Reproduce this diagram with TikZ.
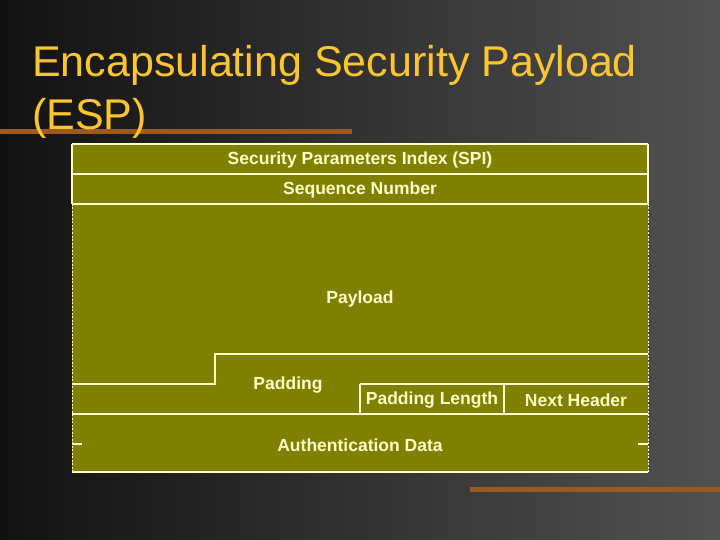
\documentclass[tikz,border=0pt]{standalone}
\usepackage{fontspec}
\setmainfont{Liberation Sans}
\definecolor{olive1}{HTML}{808000}
\definecolor{ln}{HTML}{FFFFC8}
\definecolor{ttl}{HTML}{FFC52E}
\definecolor{deco}{HTML}{9A5A20}
\begin{document}
\begin{tikzpicture}[x=1pt,y=-1pt,
  lbl/.style={text=ln,font=\bfseries\fontsize{17.5}{20}\selectfont,inner sep=0},
  ln/.style={draw=ln,line width=1.2pt}]
\useasboundingbox (0,0) rectangle (720,540);
\shade[shading=axis,shading angle=135,left color=black!93,right color=black!68] (0,0) rectangle (720,540);
\fill[deco] (0,129) rectangle (352,134);
\fill[deco] (470,487) rectangle (720,492);
\node[anchor=north west,text=ttl,font=\fontsize{43}{53}\selectfont,align=left,inner sep=0] (title) at (32,45) {Encapsulating Security Payload\\(ESP)};
\fill[olive1] (72,144) rectangle (648,472);
\draw[ln] (72,144) -- (648,144);
\draw[ln] (72,174) -- (648,174);
\draw[ln] (72,204) -- (648,204);
\draw[ln] (72,144) -- (72,204) (648,144) -- (648,204);
\draw[ln,dash pattern=on 2pt off 1.5pt,line width=1pt] (72,204) -- (72,472) (648,204) -- (648,472);
\draw[ln] (72,384) -- (215,384) -- (215,354) -- (648,354);
\draw[ln] (360,384) -- (648,384);
\draw[ln] (360,384) -- (360,414) (504,384) -- (504,414);
\draw[ln] (72,414) -- (648,414);
\draw[ln] (72,472) -- (648,472);
\draw[ln] (72,444) -- (82,444) (638,444) -- (648,444);
\node[lbl] (spi) at (360,160) {Security Parameters Index (SPI)};
\node[lbl] (seq) at (360,190) {Sequence Number};
\node[lbl] (pay) at (360,299) {Payload};
\node[lbl] (pad) at (288,385) {Padding};
\node[lbl] (padl) at (432,400) {Padding Length};
\node[lbl] (nh) at (576,400) {Next Header};
\node[lbl] (auth) at (360,445) {Authentication Data};
\end{tikzpicture}
\end{document}
